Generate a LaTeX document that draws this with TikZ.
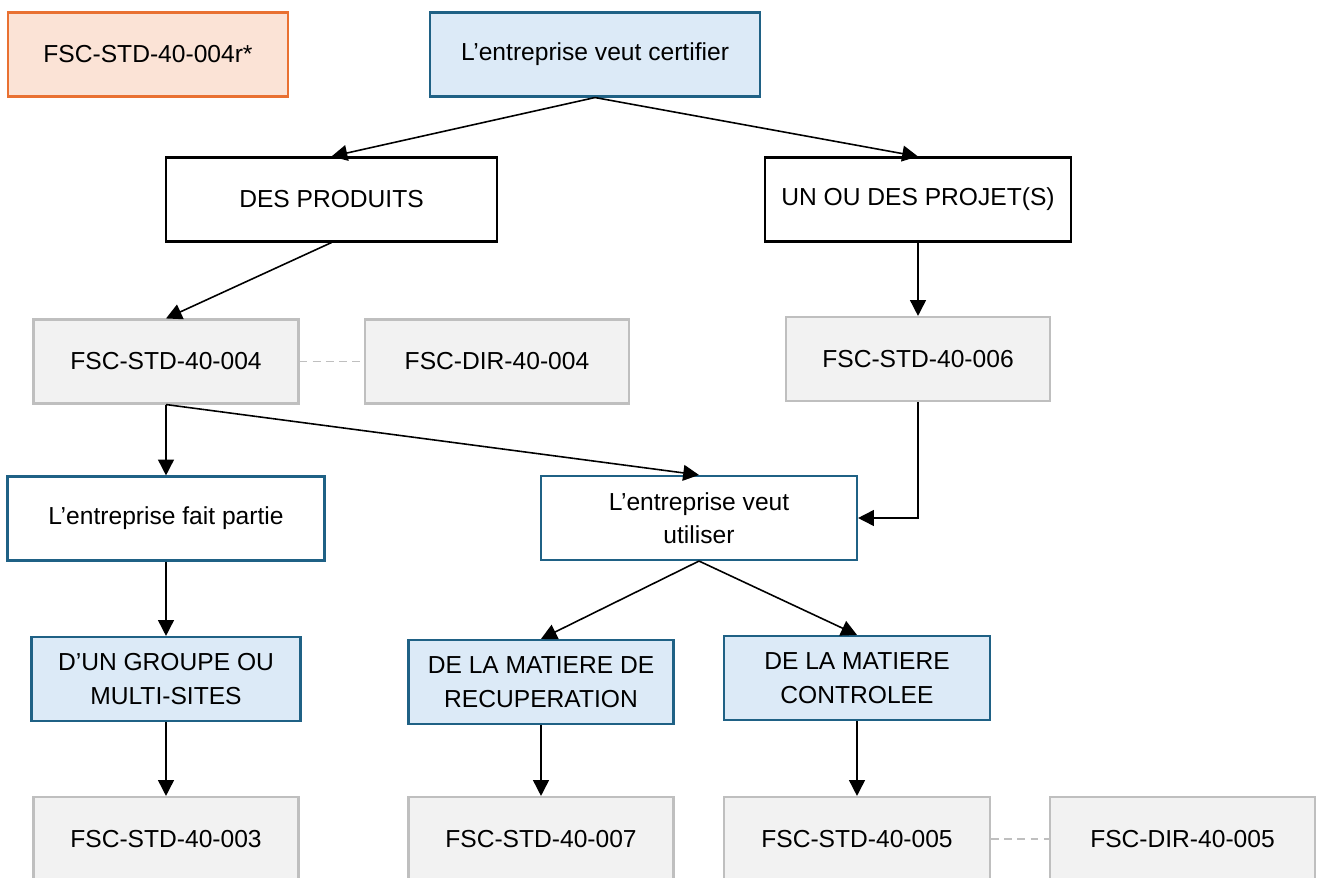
\documentclass[tikz,border=0pt]{standalone}
\usepackage{fontspec}
\setmainfont{Liberation Sans}
\usetikzlibrary{arrows.meta}
\definecolor{revline}{HTML}{E97132}
\definecolor{revfill}{HTML}{FBE3D6}
\definecolor{qline}{HTML}{1F6185}
\definecolor{qfill}{HTML}{DCEAF7}
\definecolor{stdline}{HTML}{BFBFBF}
\definecolor{stdfill}{HTML}{F2F2F2}
\begin{document}
\begin{tikzpicture}[x=0.02cm, y=-0.02cm, font=\fontsize{14}{19}\selectfont,
  box/.style={rectangle, line width=1.2pt, align=center, minimum width=#1, minimum height=1.68cm, inner sep=2pt},
  revbox/.style={box=#1, draw=revline, fill=revfill},
  askbox/.style={box=#1, draw=qline, fill=qfill},
  pickbox/.style={box=#1, draw=qline, fill=white},
  scopebox/.style={box=#1, draw=black, fill=white},
  stdbox/.style={box=#1, draw=stdline, fill=stdfill},
  arr/.style={-{Triangle[length=9pt,width=9pt]}, line width=0.9pt},
  link/.style={draw=stdline, dash pattern=on 4.5pt off 3pt, line width=0.9pt}]
\useasboundingbox (0,0) rectangle (1317,878);
\clip (0,0) rectangle (1317,878);
\node[revbox=5.6cm] (rev) at (148,54.5){FSC-STD-40-004r*};
\node[askbox=6.6cm] (cert) at (595,54.5){L’entreprise veut certifier};
\node[scopebox=6.62cm] (prod) at (331.5,199.5){DES PRODUITS};
\node[scopebox=6.12cm] (proj) at (918,199.5){UN OU DES PROJET(S)};
\draw[arr](cert.south) -- (prod.north);
\draw[arr](cert.south) -- (proj.north);
\node[stdbox=5.3cm] (s004) at (166,361.5){FSC-STD-40-004};
\node[stdbox=5.28cm] (d004) at (497,361.5){FSC-DIR-40-004};
\node[stdbox=5.28cm] (s006) at (918,359){FSC-STD-40-006};
\draw[arr](prod.south) -- (s004.north);
\draw[arr](proj.south) -- (s006.north);
\draw[link](s004.east) -- (d004.west);
\node[pickbox=6.34cm] (part) at (166,518.5){L’entreprise fait partie};
\node[pickbox=6.32cm] (use) at (699,518){L’entreprise veut\\utiliser};
\draw[arr](s004.south) -- (part.north);
\draw[arr](s004.south) -- (use.north);
\draw[arr](s006.south) |- (use.east);
\node[askbox=5.38cm] (grp) at (166,679){D’UN GROUPE OU\\MULTI-SITES};
\node[askbox=5.3cm] (recup) at (541,682){DE LA MATIERE DE\\RECUPERATION};
\node[askbox=5.32cm] (ctrl) at (857,678){DE LA MATIERE\\CONTROLEE};
\draw[arr](part.south) -- (grp.north);
\draw[arr](use.south) -- (recup.north);
\draw[arr](use.south) -- (ctrl.north);
\node[stdbox=5.3cm] (s003) at (166,839){FSC-STD-40-003};
\node[stdbox=5.3cm] (s007) at (541,839){FSC-STD-40-007};
\node[stdbox=5.32cm] (s005) at (857,839){FSC-STD-40-005};
\node[stdbox=5.3cm] (d005) at (1182.5,839){FSC-DIR-40-005};
\draw[arr](grp.south) -- (s003.north);
\draw[arr](recup.south) -- (s007.north);
\draw[arr](ctrl.south) -- (s005.north);
\draw[link](s005.east) -- (d005.west);
\end{tikzpicture}
\end{document}
